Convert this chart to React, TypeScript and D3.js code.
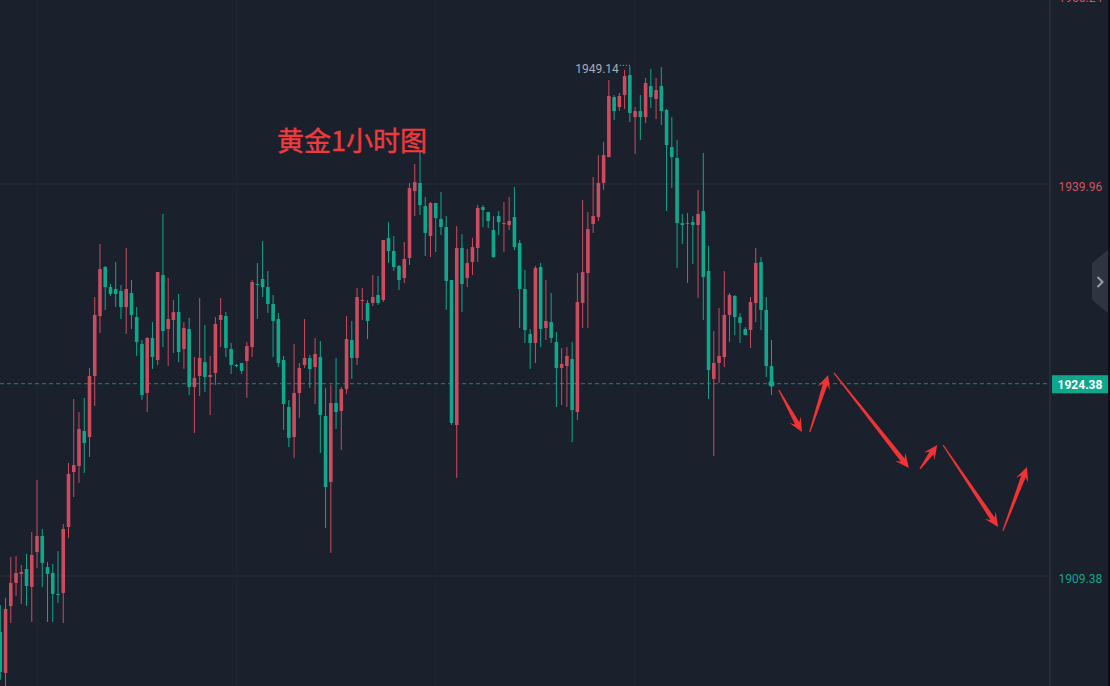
import React from 'react';
import * as d3 from 'd3';

// one hourly candle per index
const opens = [
  1905.01, 1901.82, 1907.04, 1908.84, 1909.54, 1909.93, 1908.52, 1911.25, 1912.50, 1910.08, 1909.62, 1907.98,
  1908.06, 1913.20, 1917.49, 1917.96, 1920.69, 1920.22, 1924.98, 1929.66, 1933.48, 1931.92, 1931.77, 1931.61,
  1930.36, 1931.46, 1929.58, 1927.48, 1923.66, 1927.95, 1926.23, 1932.86, 1928.65, 1929.35, 1929.97, 1927.09,
  1928.65, 1924.12, 1924.98, 1926.07, 1924.90, 1925.22, 1929.35, 1929.66, 1927.09, 1925.84, 1926.00, 1926.15,
  1927.24, 1932.16, 1932.55, 1931.92, 1930.60, 1929.43, 1926.23, 1922.56, 1920.22, 1923.66, 1925.84, 1926.39,
  1925.68, 1926.46, 1921.86, 1916.71, 1922.88, 1922.25, 1923.96, 1927.79, 1926.39, 1930.83, 1930.68, 1930.68,
  1931.30, 1930.91, 1935.75, 1934.73, 1933.56, 1932.63, 1934.19, 1939.41, 1940.04, 1938.24, 1935.90, 1938.48,
  1937.23, 1936.60, 1932.47, 1921.16, 1934.97, 1932.63, 1933.87, 1934.97, 1938.16, 1937.77, 1936.37, 1937.46,
  1936.84, 1936.76, 1937.38, 1935.36, 1931.77, 1928.26, 1927.56, 1933.48, 1928.73, 1929.19, 1927.63, 1925.61,
  1925.76, 1926.31, 1922.17, 1930.68, 1933.02, 1936.84, 1937.38, 1940.04, 1942.06, 1946.74, 1945.96, 1946.90,
  1948.46, 1945.18, 1945.65, 1945.18, 1947.60, 1946.59, 1947.60, 1945.73, 1942.84, 1941.99, 1936.91, 1936.84,
  1936.99, 1936.76, 1937.85, 1933.17, 1924.75, 1926.00, 1926.46, 1929.74, 1931.22, 1929.58, 1928.65, 1928.57,
  1930.68, 1933.87, 1930.13, 1925.76,
];
const closes = [
  1901.89, 1906.81, 1908.84, 1909.62, 1909.69, 1908.60, 1911.02, 1912.50, 1910.40, 1909.54, 1907.98, 1907.90,
  1913.05, 1917.34, 1918.04, 1920.85, 1919.76, 1924.98, 1929.74, 1933.33, 1931.92, 1931.38, 1931.38, 1930.36,
  1931.77, 1929.74, 1927.63, 1923.50, 1927.95, 1926.46, 1933.09, 1928.49, 1929.43, 1929.97, 1926.85, 1928.73,
  1924.12, 1924.83, 1926.39, 1924.90, 1925.06, 1929.04, 1929.74, 1927.17, 1925.84, 1925.76, 1925.37, 1927.32,
  1932.31, 1932.08, 1931.92, 1930.60, 1929.27, 1926.00, 1922.80, 1920.15, 1923.66, 1925.61, 1926.39, 1925.53,
  1926.70, 1921.94, 1916.32, 1922.88, 1922.17, 1923.96, 1927.87, 1926.39, 1931.14, 1930.91, 1929.27, 1931.14,
  1930.68, 1935.59, 1934.73, 1933.48, 1932.47, 1934.11, 1939.65, 1940.11, 1938.32, 1936.14, 1938.48, 1937.31,
  1936.60, 1932.39, 1921.32, 1934.97, 1932.16, 1933.80, 1935.04, 1938.09, 1937.93, 1937.07, 1934.26, 1936.99,
  1936.91, 1937.07, 1935.04, 1931.77, 1928.57, 1927.56, 1933.41, 1928.65, 1929.27, 1927.95, 1925.61, 1925.92,
  1926.54, 1922.33, 1930.75, 1933.09, 1936.45, 1937.46, 1940.04, 1942.22, 1946.82, 1945.65, 1946.82, 1948.38,
  1945.50, 1945.65, 1945.18, 1947.84, 1946.74, 1947.29, 1945.65, 1943.00, 1942.06, 1936.91, 1936.76, 1936.91,
  1936.76, 1937.62, 1932.70, 1925.45, 1926.00, 1926.54, 1929.74, 1931.30, 1929.58, 1929.12, 1928.18, 1930.75,
  1933.80, 1930.13, 1925.76, 1924.38,
];
const highs = [
  1907.12, 1907.67, 1910.86, 1910.94, 1910.24, 1911.10, 1912.81, 1916.87, 1913.05, 1910.47, 1910.32, 1911.33,
  1913.44, 1918.20, 1923.19, 1922.17, 1923.27, 1925.61, 1931.14, 1935.28, 1933.56, 1932.16, 1933.87, 1932.08,
  1934.97, 1932.47, 1930.36, 1927.79, 1928.02, 1929.19, 1933.09, 1937.62, 1932.63, 1930.91, 1931.38, 1929.19,
  1929.51, 1926.46, 1931.07, 1928.96, 1926.54, 1929.58, 1931.07, 1929.97, 1927.56, 1925.92, 1926.00, 1927.63,
  1932.47, 1933.80, 1935.51, 1933.17, 1931.30, 1929.90, 1926.54, 1923.11, 1927.48, 1926.00, 1929.43, 1926.62,
  1927.95, 1927.71, 1924.05, 1924.28, 1926.39, 1924.12, 1929.66, 1929.27, 1931.85, 1931.85, 1930.91, 1932.86,
  1932.78, 1935.59, 1936.99, 1935.90, 1933.64, 1935.43, 1940.04, 1941.52, 1942.45, 1938.94, 1938.55, 1938.48,
  1939.33, 1937.46, 1932.47, 1936.68, 1936.06, 1934.89, 1935.75, 1938.32, 1938.32, 1937.77, 1937.46, 1937.85,
  1938.55, 1938.94, 1939.72, 1935.59, 1933.25, 1928.65, 1933.56, 1933.80, 1932.47, 1931.46, 1928.41, 1927.17,
  1927.24, 1927.63, 1933.02, 1938.71, 1937.77, 1940.50, 1942.22, 1943.23, 1948.07, 1946.90, 1947.06, 1948.85,
  1949.14, 1945.96, 1946.90, 1948.23, 1948.93, 1948.23, 1949.08, 1945.81, 1945.18, 1943.39, 1937.62, 1937.70,
  1937.46, 1939.49, 1942.38, 1935.12, 1928.49, 1930.29, 1933.17, 1931.46, 1931.30, 1929.90, 1928.80, 1931.14,
  1934.97, 1934.26, 1931.14, 1927.79,
];
const lows = [
  1901.27, 1900.49, 1905.72, 1907.82, 1907.20, 1907.04, 1905.79, 1910.01, 1908.52, 1905.79, 1905.79, 1907.28,
  1905.72, 1912.35, 1915.54, 1916.64, 1917.42, 1918.66, 1922.64, 1928.34, 1930.13, 1931.22, 1930.36, 1929.43,
  1928.26, 1928.65, 1926.54, 1923.11, 1922.17, 1925.53, 1925.84, 1927.24, 1925.76, 1926.78, 1926.07, 1925.53,
  1923.50, 1920.54, 1923.42, 1923.73, 1921.94, 1924.28, 1927.24, 1926.46, 1925.14, 1925.68, 1925.14, 1923.27,
  1926.46, 1929.43, 1931.14, 1929.90, 1926.46, 1925.68, 1920.77, 1919.44, 1918.59, 1921.71, 1925.61, 1924.05,
  1922.80, 1918.98, 1913.13, 1911.18, 1920.85, 1919.21, 1923.58, 1924.75, 1925.84, 1929.35, 1927.87, 1930.44,
  1930.52, 1930.75, 1933.80, 1933.17, 1931.69, 1932.24, 1933.64, 1937.46, 1937.54, 1934.34, 1934.26, 1934.65,
  1935.98, 1930.13, 1921.16, 1917.03, 1929.97, 1931.92, 1932.86, 1933.87, 1936.60, 1936.53, 1934.19, 1935.98,
  1934.65, 1936.37, 1934.81, 1928.73, 1927.56, 1925.53, 1926.00, 1927.24, 1927.79, 1927.56, 1922.56, 1922.72,
  1922.56, 1919.83, 1921.55, 1928.73, 1928.73, 1936.14, 1937.07, 1939.49, 1942.06, 1944.95, 1945.65, 1945.81,
  1944.79, 1942.30, 1943.39, 1944.72, 1945.89, 1945.03, 1944.56, 1937.85, 1939.65, 1933.41, 1935.28, 1932.24,
  1933.72, 1931.07, 1929.35, 1923.19, 1918.74, 1924.44, 1925.68, 1927.63, 1928.18, 1927.56, 1928.18, 1927.17,
  1929.19, 1928.57, 1924.90, 1923.50,
];

const priceLabels = [1955.24, 1939.96, 1909.38];
const gridPrices = [1939.96, 1909.38];
const gridBars = [7, 45, 83, 121];
const lastPrice = 1924.38;
const highPrice = 1949.14;
const highBar = 120;
const title = '黄金1小时图';

// hand drawn arrows on the chart, [bar, price]
const arrowFrom = [[148.4, 1923.89], [154.3, 1920.61], [158.9, 1925.22], [175.3, 1917.73], [179.7, 1919.6], [191.1, 1912.89]];
const arrowTo = [[152.8, 1920.61], [157.8, 1925.06], [173.2, 1917.81], [178.6, 1919.6], [190.2, 1913.2], [195.7, 1917.88]];

const width = 1110;
const height = 686;
const axisX = 1050;
const bg = '#1a202c';
const gridColor = '#212833';
const upColor = '#cc4b5f';
const downColor = '#10a88c';
const fontFamily = 'Roboto, "Noto Sans", sans-serif';

const x = d3.scaleLinear().domain([0, opens.length - 1]).range([0.3, 771.5]);
const y = d3.scaleLinear().domain([1939.96, 1909.38]).range([184, 576]);

// tapered shaft with a swept back head
const arrowPath = (from: number[], to: number[]) => {
  const x0 = x(from[0]);
  const y0 = y(from[1]);
  const x1 = x(to[0]);
  const y1 = y(to[1]);
  const len = Math.hypot(x1 - x0, y1 - y0);
  const ux = (x1 - x0) / len;
  const uy = (y1 - y0) / len;
  const at = (along: number, side: number): [number, number] => [
    x1 - ux * along - uy * side,
    y1 - uy * along + ux * side,
  ];
  const pts: [number, number][] = [
    at(len, 0.6),
    at(10, 2.4),
    at(14, 6.5),
    [x1, y1],
    at(14, -6.5),
    at(10, -2.4),
    at(len, -0.6),
  ];
  return d3.line()(pts) + 'Z';
};

const App: React.FC = () => {
  const bars = d3.range(opens.length);
  const labelColor = (p: number) => (p >= lastPrice ? '#d4525f' : '#12a58c');

  return (
    <div style={{ position: 'absolute', left: 0, top: 0, width, height }}>
      <svg width={width} height={height} style={{ display: 'block', background: bg }}>
        {gridBars.map(b => (
          <line key={b} x1={x(b)} x2={x(b)} y1={0} y2={height} stroke={gridColor} strokeWidth={1} />
        ))}
        {gridPrices.map(p => (
          <line key={p} x1={0} x2={axisX} y1={y(p)} y2={y(p)} stroke={gridColor} strokeWidth={2} />
        ))}
        <line x1={axisX} x2={axisX} y1={0} y2={height} stroke="#2a303c" strokeWidth={1.5} />

        <line x1={0} x2={axisX} y1={y(lastPrice)} y2={y(lastPrice)} stroke="#2f7f78" strokeWidth={1} strokeDasharray="4 3" />

        {bars.map(i => {
          const up = closes[i] >= opens[i];
          const color = up ? upColor : downColor;
          const top = y(Math.max(opens[i], closes[i]));
          const bottom = y(Math.min(opens[i], closes[i]));
          return (
            <g key={i}>
              <line x1={x(i)} x2={x(i)} y1={y(highs[i])} y2={y(lows[i])} stroke={color} strokeWidth={1} />
              <rect x={x(i) - 1.8} y={top} width={3.6} height={Math.max(bottom - top, 1)} fill={color} />
            </g>
          );
        })}

        <circle cx={x(opens.length - 1)} cy={y(lastPrice)} r={3} fill={downColor} />

        <text x={x(highBar) - 11} y={y(highPrice) + 7} textAnchor="end" fill="#a9adb5" fontSize={12} fontFamily={fontFamily}>
          {highPrice.toFixed(2)}
        </text>
        <line x1={x(highBar) - 10} x2={x(highBar)} y1={y(highPrice) - 1} y2={y(highPrice) - 1} stroke="#a9adb5" strokeWidth={1} strokeDasharray="1 2" />

        {arrowFrom.map((from, i) => (
          <path key={i} d={arrowPath(from, arrowTo[i])} fill="#f03436" />
        ))}

        <text x={277} y={151} fill="#ee3b3e" stroke="#ee3b3e" strokeWidth={0.4} fontSize={27} fontFamily='"Noto Sans CJK SC", sans-serif'>
          {title}
        </text>

        {priceLabels.map((p, i) => (
          <text key={p} x={1058.5} y={i === 0 ? 2 : y(p) + 7} fill={labelColor(p)} fontSize={12} fontFamily={fontFamily}>
            {p.toFixed(2)}
          </text>
        ))}

        <path d="M1092 263L1108 250V313L1092 300Z" fill="#2e3440" />
        <path d="M1097.5 277L1102.5 282L1097.5 287" fill="none" stroke="#9a9ea6" strokeWidth={2} />

        <rect x={1052} y={y(lastPrice) - 8.5} width={56} height={18} fill="#0fa78c" />
        <text x={1080} y={y(lastPrice) + 5} textAnchor="middle" fill="#fff" fontSize={12} fontWeight="bold" fontFamily={fontFamily}>
          {lastPrice.toFixed(2)}
        </text>

        <rect x={1108} y={0} width={2} height={height} fill="#0d0f14" />
      </svg>
    </div>
  );
};

export default App;
